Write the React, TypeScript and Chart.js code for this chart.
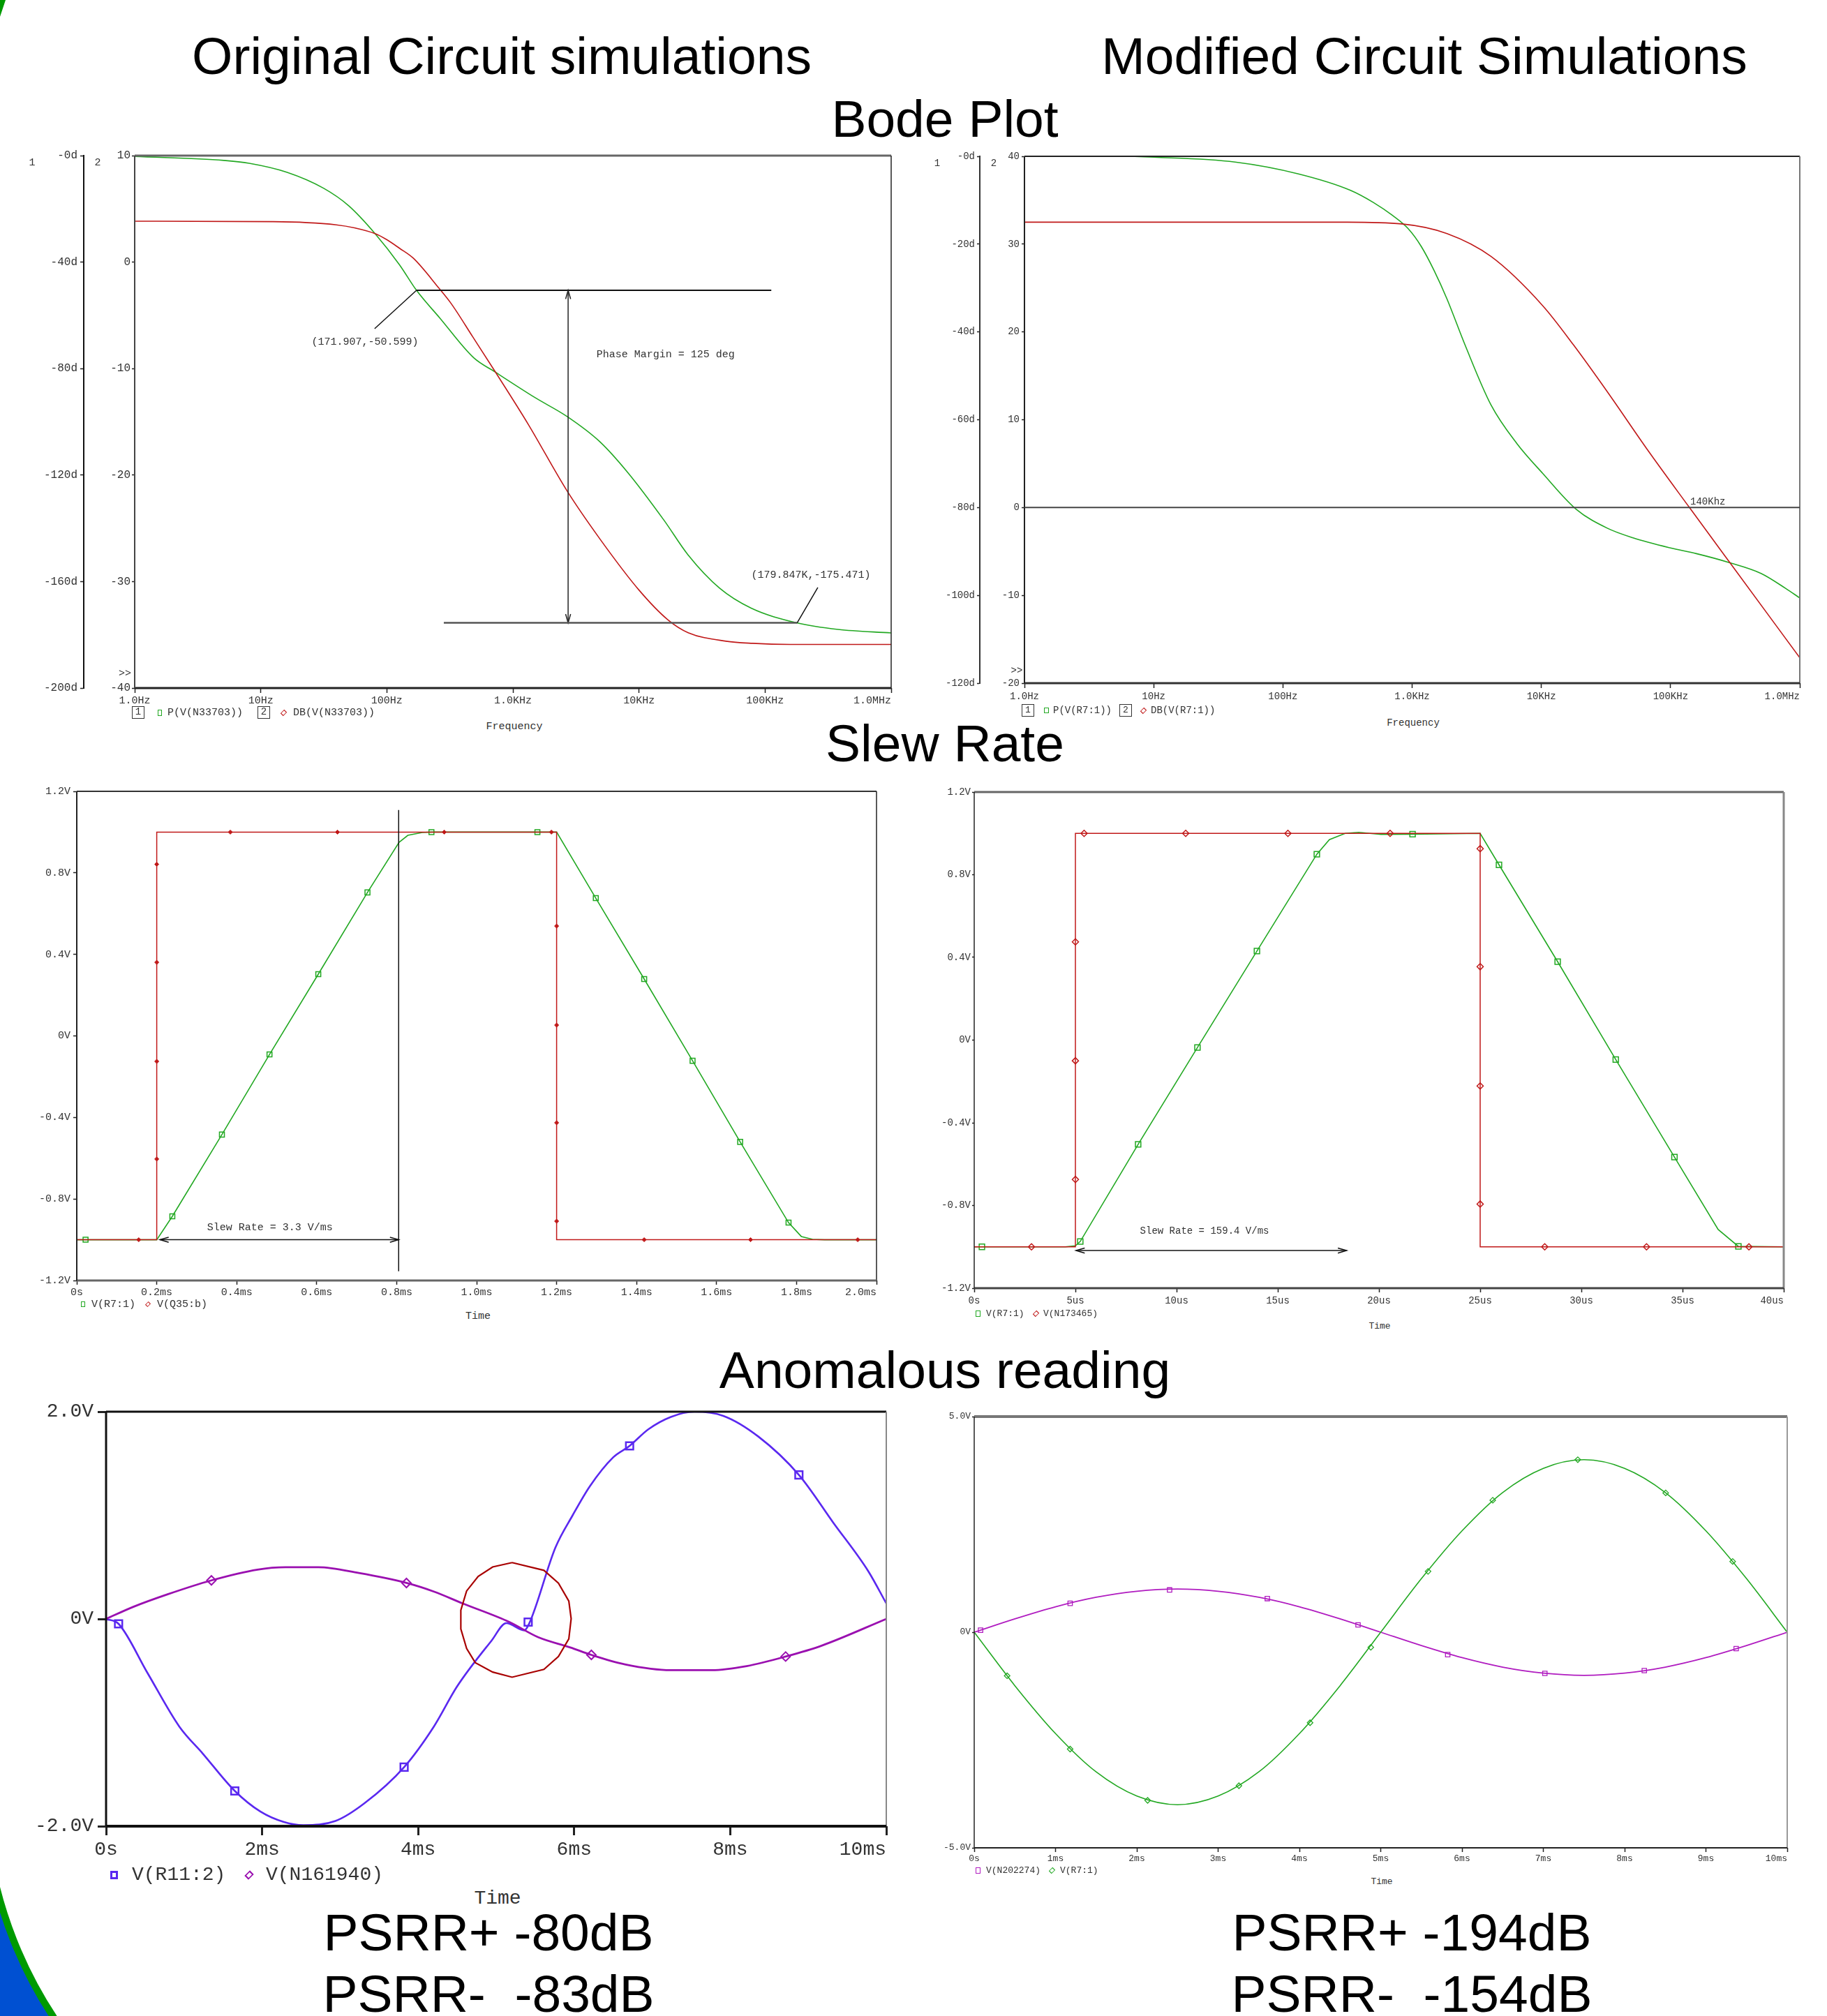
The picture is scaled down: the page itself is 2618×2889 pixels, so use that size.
import React, { useEffect, useRef } from 'react';
import { Chart, registerables } from 'chart.js';
Chart.register(...registerables);

const MONO = '"Liberation Mono", "DejaVu Sans Mono", monospace';
const SANS = '"Liberation Sans", Arial, sans-serif';
const TXT = '#333';
const GREEN = '#22a822';
const RED = '#c01818';
const BLUE = '#5a28f0';
const PURPLE = '#9a10b0';
const CIRCLE = '#a80000';
const MAG = '#b01cc0';

// ---------------- Bode plot, original circuit ----------------
const bodeXTicks = [1, 10, 100, 1000, 10000, 100000, 1000000];
const bodeXLabels = ['1.0Hz', '10Hz', '100Hz', '1.0KHz', '10KHz', '100KHz', '1.0MHz'];
const bodeOrigPhTicks = [-200, -160, -120, -80, -40, 0];
const bodeOrigPhLabels = ['-200d', '-160d', '-120d', '-80d', '-40d', '-0d'];
const bodeOrigDbTicks = [-40, -30, -20, -10, 0, 10];
const bodeOrigDbLabels = ['-40', '-30', '-20', '-10', '0', '10'];
const bodeOrigPhaseF = [1, 5.1, 8.1, 16.2, 31.6, 50, 81, 126, 171.9, 263, 490, 724, 1510, 2690, 4900, 8130, 15800, 24500, 43600, 77600, 178000, 380000, 1000000];
const bodeOrigPhase = [-0.3, -1.8, -2.9, -6.3, -12.3, -18.9, -29.4, -41, -50.6, -61, -76, -81.3, -91, -98, -107.5, -119, -137, -150, -162.5, -170, -175.5, -178, -179.3];
const bodeOrigDbF = [1, 12.6, 39.8, 56.2, 81.3, 100, 126, 162, 257, 324, 479, 724, 1318, 2692, 4898, 10000, 16982, 24547, 48978, 79433, 158489, 1000000];
const bodeOrigDb = [3.84, 3.8, 3.5, 3.2, 2.66, 2.1, 1.3, 0.37, -2.4, -3.9, -7.0, -10.3, -15.2, -21.5, -26.0, -30.8, -33.6, -34.8, -35.6, -35.8, -35.9, -35.9];
const bodeOrigNotes = [
  { type: 'line', axis: 'yPh', x1: 171.907, y1: -50.599, x2: 112000, y2: -50.599, width: 2, color: '#111' },
  { type: 'line', axis: 'yPh', x1: 171.907, y1: -50.599, x2: 80, y2: -65, width: 1.5, color: '#111' },
  { type: 'text', axis: 'yPh', x: 67, y: -70, text: '(171.907,-50.599)', align: 'center' },
  { type: 'arrow', axis: 'yPh', x1: 2740, y1: -50.599, x2: 2740, y2: -175.471, width: 1.5, color: '#222' },
  { type: 'text', axis: 'yPh', x: 4600, y: -74.7, text: 'Phase Margin = 125 deg', align: 'left' },
  { type: 'line', axis: 'yPh', x1: 283, y1: -175.471, x2: 179847, y2: -175.471, width: 2.5, color: '#555' },
  { type: 'line', axis: 'yPh', x1: 179847, y1: -175.471, x2: 262000, y2: -162.2, width: 1.5, color: '#111' },
  { type: 'text', axis: 'yPh', x: 231000, y: -157.5, text: '(179.847K,-175.471)', align: 'center' },
];

// ---------------- Bode plot, modified circuit ----------------
const bodeModPhTicks = [-120, -100, -80, -60, -40, -20, 0];
const bodeModPhLabels = ['-120d', '-100d', '-80d', '-60d', '-40d', '-20d', '-0d'];
const bodeModDbTicks = [-20, -10, 0, 10, 20, 30, 40];
const bodeModDbLabels = ['-20', '-10', '0', '10', '20', '30', '40'];
const bodeModPhaseF = [1, 5.4, 10, 42.7, 132, 331, 501, 708, 933, 1175, 1479, 1862, 2570, 4074, 6457, 10233, 18621, 32359, 51286, 100000, 158489, 281838, 501187, 776247, 1000000];
const bodeModPhase = [0, 0, -0.2, -1.3, -4.0, -7.7, -10.5, -13.5, -16.5, -20.5, -26.0, -32.5, -43.0, -56.6, -65.4, -72.2, -80.4, -84.7, -86.9, -89.2, -90.5, -92.5, -95.0, -98.4, -100.6];
const bodeModDbF = [1, 316, 832, 1862, 4074, 10233, 17783, 32359, 67608, 140000, 281838, 1000000];
const bodeModDb = [32.5, 32.5, 32.3, 31.2, 28.6, 23.0, 18.5, 13.2, 6.4, 0, -6.1, -17.1];
const bodeModNotes = [
  { type: 'line', axis: 'yDb', x1: 1, y1: 0, x2: 1000000, y2: 0, width: 2, color: '#444' },
  { type: 'text', axis: 'yDb', x: 142000, y: 0.66, text: '140Khz', align: 'left' },
];

// ---------------- Slew rate ----------------
const slewYTicks = [-1.2, -0.8, -0.4, 0, 0.4, 0.8, 1.2];
const slewYLabels = ['-1.2V', '-0.8V', '-0.4V', '0V', '0.4V', '0.8V', '1.2V'];
const slewOrigXTicks = [0, 0.2, 0.4, 0.6, 0.8, 1.0, 1.2, 1.4, 1.6, 1.8, 2.0];
const slewOrigXLabels = ['0s', '0.2ms', '0.4ms', '0.6ms', '0.8ms', '1.0ms', '1.2ms', '1.4ms', '1.6ms', '1.8ms', '2.0ms'];
const slewOrigRedT = [0, 0.2, 0.2, 1.2, 1.2, 2.0];
const slewOrigRedV = [-1, -1, 1, 1, -1, -1];
const slewOrigRedMarkT = [0.155, 0.2, 0.2, 0.2, 0.2, 0.384, 0.652, 0.919, 1.187, 1.2, 1.2, 1.2, 1.2, 1.419, 1.685, 1.953];
const slewOrigRedMarkV = [-1, -0.604, -0.125, 0.361, 0.842, 1, 1, 1, 1, 0.539, 0.053, -0.426, -0.909, -1, -1, -1];
const slewOrigGreenT = [0, 0.2, 0.239, 0.363, 0.482, 0.604, 0.727, 0.806, 0.828, 0.864, 0.887, 1.152, 1.2, 1.298, 1.419, 1.54, 1.659, 1.78, 1.812, 1.84, 1.87, 2.0];
const slewOrigGreenV = [-1, -1, -0.885, -0.484, -0.091, 0.303, 0.704, 0.95, 0.984, 0.998, 1.0, 1.0, 1.0, 0.676, 0.279, -0.122, -0.52, -0.916, -0.984, -0.998, -1, -1];
const slewOrigGreenMarkT = [0.022, 0.239, 0.363, 0.482, 0.604, 0.727, 0.887, 1.152, 1.298, 1.419, 1.54, 1.659, 1.78];
const slewOrigGreenMarkV = [-1, -0.885, -0.484, -0.091, 0.303, 0.704, 1.0, 1.0, 0.676, 0.279, -0.122, -0.52, -0.916];
const slewOrigNotes = [
  { type: 'line', axis: 'y', x1: 0.805, y1: 1.108, x2: 0.805, y2: -1.155, width: 1.5, color: '#111' },
  { type: 'arrow', axis: 'y', x1: 0.208, y1: -1, x2: 0.805, y2: -1, width: 1.5, color: '#111' },
  { type: 'text', axis: 'y', x: 0.483, y: -0.94, text: 'Slew Rate = 3.3 V/ms', align: 'center' },
];

const slewModXTicks = [0, 5, 10, 15, 20, 25, 30, 35, 40];
const slewModXLabels = ['0s', '5us', '10us', '15us', '20us', '25us', '30us', '35us', '40us'];
const slewModRedT = [0, 5, 5, 25, 25, 40];
const slewModRedV = [-1, -1, 1, 1, -1, -1];
const slewModRedMarkT = [2.83, 5, 5, 5, 5.43, 10.45, 15.5, 20.55, 25, 25, 25, 25, 28.19, 33.22, 38.28];
const slewModRedMarkV = [-1, 0.475, -0.1, -0.674, 1, 1, 1, 1, 0.926, 0.355, -0.222, -0.793, -1, -1, -1];
const slewModGreenT = [0, 4.5, 5, 5.24, 8.1, 11.03, 13.97, 16.93, 17.55, 18.33, 19.0, 20.1, 21.66, 25, 25.93, 28.83, 31.7, 34.6, 36.76, 37.76, 40];
const slewModGreenV = [-1, -1, -0.995, -0.974, -0.504, -0.036, 0.431, 0.899, 0.97, 1.0, 1.005, 0.995, 0.996, 1.0, 0.848, 0.379, -0.094, -0.566, -0.916, -0.998, -1];
const slewModGreenMarkT = [0.38, 5.24, 8.1, 11.03, 13.97, 16.93, 21.66, 25.93, 28.83, 31.7, 34.6, 37.76];
const slewModGreenMarkV = [-1, -0.974, -0.504, -0.036, 0.431, 0.899, 0.996, 0.848, 0.379, -0.094, -0.566, -0.998];
const slewModNotes = [
  { type: 'arrow', axis: 'y', x1: 5.03, y1: -1.018, x2: 18.4, y2: -1.018, width: 1.5, color: '#111' },
  { type: 'text', axis: 'y', x: 11.38, y: -0.923, text: 'Slew Rate = 159.4 V/ms', align: 'center' },
];

// ---------------- Anomalous reading ----------------
const anomOrigXTicks = [0, 2, 4, 6, 8, 10];
const anomOrigXLabels = ['0s', '2ms', '4ms', '6ms', '8ms', '10ms'];
const anomOrigYTicks = [-2, 0, 2];
const anomOrigYLabels = ['-2.0V', '0V', '2.0V'];
const anomOrigBlueT = [0, 0.16, 0.53, 0.94, 1.24, 1.65, 1.98, 2.28, 2.53, 2.94, 3.31, 3.82, 4.2, 4.5, 4.94, 5.13, 5.36, 5.42, 5.76, 5.98, 6.2, 6.5, 6.71, 6.95, 7.24, 7.54, 7.91, 8.36, 8.88, 9.32, 9.77, 10];
const anomOrigBlueV = [0, -0.047, -0.52, -1.04, -1.30, -1.66, -1.86, -1.96, -1.99, -1.95, -1.78, -1.43, -1.04, -0.65, -0.21, -0.04, -0.11, -0.05, 0.69, 1.0, 1.28, 1.56, 1.67, 1.83, 1.95, 2.0, 1.96, 1.76, 1.39, 0.93, 0.46, 0.15];
const anomOrigBlueMarkT = [0.16, 1.65, 3.82, 5.41, 6.71, 8.88];
const anomOrigBlueMarkV = [-0.047, -1.66, -1.43, -0.03, 1.67, 1.39];
const anomOrigPurpleT = [0, 0.35, 0.79, 1.35, 1.94, 2.3, 2.72, 3.24, 3.85, 4.2, 4.57, 5.17, 5.54, 5.95, 6.22, 6.65, 7.24, 7.76, 8.21, 8.71, 9.17, 10];
const anomOrigPurpleV = [0, 0.117, 0.238, 0.372, 0.476, 0.499, 0.499, 0.443, 0.347, 0.264, 0.15, -0.03, -0.177, -0.275, -0.347, -0.438, -0.494, -0.494, -0.455, -0.363, -0.258, 0];
const anomOrigPurpleMarkT = [1.35, 3.85, 6.22, 8.71];
const anomOrigPurpleMarkV = [0.372, 0.347, -0.347, -0.363];
const circleT = [5.204, 5.612, 5.798, 5.931, 5.961, 5.931, 5.798, 5.612, 5.204, 4.955, 4.732, 4.621, 4.547, 4.547, 4.621, 4.769, 4.955, 5.204];
const circleV = [0.544, 0.469, 0.345, 0.172, 0.003, -0.193, -0.363, -0.487, -0.562, -0.513, -0.422, -0.285, -0.096, 0.084, 0.270, 0.411, 0.502, 0.544];

const anomModXTicks = [0, 1, 2, 3, 4, 5, 6, 7, 8, 9, 10];
const anomModXLabels = ['0s', '1ms', '2ms', '3ms', '4ms', '5ms', '6ms', '7ms', '8ms', '9ms', '10ms'];
const anomModYTicks = [-5, 0, 5];
const anomModYLabels = ['-5.0V', '0V', '5.0V'];
const anomModT = [0, 0.5, 1, 1.5, 2, 2.5, 3, 3.5, 4, 4.5, 5, 5.5, 6, 6.5, 7, 7.5, 8, 8.5, 9, 9.5, 10];
const anomModGreenV = [0, -1.24, -2.35, -3.24, -3.8, -4.0, -3.8, -3.24, -2.35, -1.24, 0, 1.24, 2.35, 3.24, 3.8, 4.0, 3.8, 3.24, 2.35, 1.24, 0];
const anomModPurpleV = [0, 0.31, 0.59, 0.81, 0.95, 1.0, 0.95, 0.81, 0.59, 0.31, 0, -0.31, -0.59, -0.81, -0.95, -1.0, -0.95, -0.81, -0.59, -0.31, 0];
const anomModGreenMarkT = [0.405, 1.18, 2.133, 3.256, 4.131, 4.878, 5.582, 6.378, 7.424, 8.505, 9.329];
const anomModGreenMarkV = [-1.01, -2.71, -3.90, -3.56, -2.10, -0.35, 1.41, 3.06, 4.0, 3.23, 1.64];
const anomModPurpleMarkT = [0.078, 1.18, 2.403, 3.605, 4.721, 5.824, 7.019, 8.242, 9.372];
const anomModPurpleMarkV = [0.047, 0.67, 0.98, 0.78, 0.17, -0.52, -0.955, -0.89, -0.38];

// ---------------- helpers ----------------
const pts = (xs: number[], ys: number[]) => xs.map((x, i) => ({ x, y: ys[i] }));

function lineDs(xs: number[], ys: number[], color: string, width: number, axis: string, order: number, smooth = false) {
  return {
    data: pts(xs, ys), showLine: true, borderColor: color, borderWidth: width, pointRadius: 0,
    yAxisID: axis, order, fill: false, tension: 0,
    cubicInterpolationMode: smooth ? 'monotone' : 'default',
  };
}
function markDs(xs: number[], ys: number[], color: string, style: string, r: number, filled: boolean, bw: number, axis: string, order: number) {
  return {
    data: pts(xs, ys), showLine: false, pointStyle: style, pointRadius: r, borderColor: color,
    backgroundColor: filled ? color : 'rgba(0,0,0,0)', borderWidth: bw, pointBorderWidth: bw,
    yAxisID: axis, order,
  };
}

function framePlugin(f: any) {
  return {
    id: 'frame',
    afterDatasetsDraw(chart: any) {
      const { ctx, chartArea: a } = chart;
      const side = (spec: any, x1: number, y1: number, x2: number, y2: number) => {
        ctx.save(); ctx.strokeStyle = spec[1]; ctx.lineWidth = spec[0];
        ctx.beginPath(); ctx.moveTo(x1, y1); ctx.lineTo(x2, y2); ctx.stroke(); ctx.restore();
      };
      side(f.top, a.left, a.top, a.right, a.top);
      side(f.right, a.right, a.top, a.right, a.bottom);
      side(f.bottom, a.left, a.bottom, a.right, a.bottom);
      side(f.left, a.left, a.top, a.left, a.bottom);
    },
  };
}

function notesPlugin(items: any[], size: number) {
  return {
    id: 'notes',
    afterDraw(chart: any) {
      const ctx = chart.ctx; const xs = chart.scales.x;
      items.forEach((it: any) => {
        const ys = chart.scales[it.axis];
        ctx.save();
        if (it.type === 'text') {
          ctx.font = `${size}px ${MONO}`; ctx.fillStyle = TXT; ctx.textAlign = it.align; ctx.textBaseline = 'middle';
          ctx.fillText(it.text, xs.getPixelForValue(it.x), ys.getPixelForValue(it.y));
        } else {
          const x1 = xs.getPixelForValue(it.x1), y1 = ys.getPixelForValue(it.y1);
          const x2 = xs.getPixelForValue(it.x2), y2 = ys.getPixelForValue(it.y2);
          ctx.strokeStyle = it.color; ctx.lineWidth = it.width;
          ctx.beginPath(); ctx.moveTo(x1, y1); ctx.lineTo(x2, y2); ctx.stroke();
          if (it.type === 'arrow') {
            const head = (px: number, py: number, ang: number) => {
              const L = 13, s = 0.28;
              ctx.beginPath();
              ctx.moveTo(px - L * Math.cos(ang - s), py - L * Math.sin(ang - s));
              ctx.lineTo(px, py);
              ctx.lineTo(px - L * Math.cos(ang + s), py - L * Math.sin(ang + s));
              ctx.stroke();
            };
            const ang = Math.atan2(y2 - y1, x2 - x1);
            head(x2, y2, ang); head(x1, y1, ang + Math.PI);
          }
        }
        ctx.restore();
      });
    },
  };
}

function xLabelPlugin(labels: string[], size: number, offset: number) {
  return {
    id: 'xlabels',
    afterDraw(chart: any) {
      const ctx = chart.ctx; const s = chart.scales.x;
      ctx.save(); ctx.font = `${size}px ${MONO}`; ctx.fillStyle = TXT; ctx.textBaseline = 'middle';
      s.ticks.forEach((t: any, i: number) => {
        ctx.textAlign = i === s.ticks.length - 1 ? 'right' : 'center';
        ctx.fillText(labels[i], s.getPixelForValue(t.value), s.top + offset);
      });
      ctx.restore();
    },
  };
}

function makeConfig(spec: any) {
  const zeroPad = (s: any) => { s.paddingLeft = 0; s.paddingRight = 0; s.paddingTop = 0; s.paddingBottom = 0; };
  const scales: any = {
    x: {
      type: spec.xType, min: spec.xMin, max: spec.xMax, position: 'bottom',
      afterBuildTicks: (s: any) => { s.ticks = spec.xTicks.map((v: number) => ({ value: v })); },
      afterFit: (s: any) => { s.height = spec.xHeight; zeroPad(s); },
      ticks: { display: false },
      grid: { display: true, drawOnChartArea: false, drawTicks: true, tickLength: spec.xTickLen, tickColor: '#222', tickWidth: spec.xTickWidth || 1.5 },
      border: { display: false },
    },
  };
  spec.yAxes.forEach((a: any) => {
    scales[a.id] = {
      type: 'linear', position: 'left', weight: a.weight, min: a.min, max: a.max,
      afterBuildTicks: (s: any) => { s.ticks = a.ticks.map((v: number) => ({ value: v })); },
      afterFit: (s: any) => { s.width = a.width; zeroPad(s); },
      ticks: {
        callback: (_v: any, i: number) => a.labels[i], autoSkip: false,
        font: { family: MONO, size: a.font }, color: TXT, padding: a.pad,
      },
      grid: { display: true, drawOnChartArea: false, drawTicks: true, tickLength: a.tickLen, tickColor: '#222', tickWidth: a.tickWidth || 1.5 },
      border: a.border ? { display: true, width: a.border.width, color: a.border.color } : { display: false },
    };
  });
  return {
    type: 'scatter',
    data: { datasets: spec.datasets },
    options: {
      responsive: false, animation: false, devicePixelRatio: 1, events: [],
      layout: { padding: spec.padding },
      plugins: { legend: { display: false }, tooltip: { enabled: false } },
      scales,
    },
    plugins: [framePlugin(spec.frame), notesPlugin(spec.notes || [], spec.noteFont || 14), xLabelPlugin(spec.xLabels, spec.xLabelFont, spec.xLabelOffset)],
  };
}

// ---------------- chart specs ----------------
const specBodeOrig = () => makeConfig({
  xType: 'logarithmic', xMin: 1, xMax: 1000000, xTicks: bodeXTicks, xLabels: bodeXLabels,
  xHeight: 34, xTickLen: 7, xLabelFont: 15, xLabelOffset: 18,
  padding: { top: 33, right: 43, bottom: 0, left: 0 },
  yAxes: [
    { id: 'yPh', min: -200, max: 0, ticks: bodeOrigPhTicks, labels: bodeOrigPhLabels, width: 120, weight: 10, tickLen: 5, pad: 4, font: 16, border: { width: 2, color: '#111' } },
    { id: 'yDb', min: -40, max: 10, ticks: bodeOrigDbTicks, labels: bodeOrigDbLabels, width: 73, weight: 1, tickLen: 4, pad: 2, font: 16 },
  ],
  datasets: [
    lineDs(bodeOrigDbF, bodeOrigDb, RED, 1.6, 'yDb', 0, true),
    lineDs(bodeOrigPhaseF, bodeOrigPhase, GREEN, 1.6, 'yPh', 1, true),
  ],
  frame: { top: [3, '#666'], right: [1.5, '#222'], bottom: [3, '#222'], left: [2, '#444'] },
  notes: bodeOrigNotes, noteFont: 15,
});

const specBodeMod = () => makeConfig({
  xType: 'logarithmic', xMin: 1, xMax: 1000000, xTicks: bodeXTicks, xLabels: bodeXLabels,
  xHeight: 41, xTickLen: 7, xLabelFont: 14, xLabelOffset: 19,
  padding: { top: 34, right: 39, bottom: 0, left: 0 },
  yAxes: [
    { id: 'yPh', min: -120, max: 0, ticks: bodeModPhTicks, labels: bodeModPhLabels, width: 84, weight: 10, tickLen: 4, pad: 3, font: 14, border: { width: 2, color: '#333' } },
    { id: 'yDb', min: -20, max: 40, ticks: bodeModDbTicks, labels: bodeModDbLabels, width: 64, weight: 1, tickLen: 4, pad: 3, font: 14 },
  ],
  datasets: [
    lineDs(bodeModDbF, bodeModDb, RED, 1.6, 'yDb', 0, true),
    lineDs(bodeModPhaseF, bodeModPhase, GREEN, 1.6, 'yPh', 1, true),
  ],
  frame: { top: [2, '#222'], right: [2, '#777'], bottom: [3, '#333'], left: [2, '#222'] },
  notes: bodeModNotes, noteFont: 14,
});

const specSlewOrig = () => makeConfig({
  xType: 'linear', xMin: 0, xMax: 2, xTicks: slewOrigXTicks, xLabels: slewOrigXLabels,
  xHeight: 35, xTickLen: 6, xLabelFont: 15, xLabelOffset: 17,
  padding: { top: 34, right: 44, bottom: 0, left: 0 },
  yAxes: [{ id: 'y', min: -1.2, max: 1.2, ticks: slewYTicks, labels: slewYLabels, width: 110, weight: 1, tickLen: 5, pad: 4, font: 15 }],
  datasets: [
    lineDs(slewOrigRedT, slewOrigRedV, RED, 1.5, 'y', 0),
    markDs(slewOrigRedMarkT, slewOrigRedMarkV, RED, 'rectRot', 3, true, 1, 'y', 0),
    lineDs(slewOrigGreenT, slewOrigGreenV, GREEN, 1.6, 'y', 2),
    markDs(slewOrigGreenMarkT, slewOrigGreenMarkV, GREEN, 'rect', 5, false, 1.5, 'y', 1),
  ],
  frame: { top: [2, '#333'], right: [1.5, '#222'], bottom: [3, '#666'], left: [2, '#222'] },
  notes: slewOrigNotes, noteFont: 15,
});

const specSlewMod = () => makeConfig({
  xType: 'linear', xMin: 0, xMax: 40, xTicks: slewModXTicks, xLabels: slewModXLabels,
  xHeight: 44, xTickLen: 6, xLabelFont: 14, xLabelOffset: 18,
  padding: { top: 35, right: 62, bottom: 0, left: 0 },
  yAxes: [{ id: 'y', min: -1.2, max: 1.2, ticks: slewYTicks, labels: slewYLabels, width: 96, weight: 1, tickLen: 3, pad: 2, font: 14 }],
  datasets: [
    lineDs(slewModRedT, slewModRedV, RED, 1.5, 'y', 0),
    markDs(slewModRedMarkT, slewModRedMarkV, RED, 'rectRot', 4.5, false, 1.5, 'y', 0),
    lineDs(slewModGreenT, slewModGreenV, GREEN, 1.6, 'y', 2),
    markDs(slewModGreenMarkT, slewModGreenMarkV, GREEN, 'rect', 5.5, false, 1.5, 'y', 1),
  ],
  frame: { top: [3, '#666'], right: [3, '#888'], bottom: [3, '#444'], left: [1.5, '#222'] },
  notes: slewModNotes, noteFont: 14,
});

const specAnomOrig = () => makeConfig({
  xType: 'linear', xMin: 0, xMax: 10, xTicks: anomOrigXTicks, xLabels: anomOrigXLabels,
  xHeight: 58, xTickLen: 13, xTickWidth: 3, xLabelFont: 28, xLabelOffset: 34,
  padding: { top: 28, right: 50, bottom: 0, left: 0 },
  yAxes: [{ id: 'y', min: -2, max: 2, ticks: anomOrigYTicks, labels: anomOrigYLabels, width: 152, weight: 1, tickLen: 12, tickWidth: 3, pad: 6, font: 28 }],
  datasets: [
    lineDs(circleT, circleV, CIRCLE, 2.2, 'y', 0),
    lineDs(anomOrigBlueT, anomOrigBlueV, BLUE, 2.6, 'y', 3, true),
    markDs(anomOrigBlueMarkT, anomOrigBlueMarkV, BLUE, 'rect', 7.5, false, 2.5, 'y', 2),
    lineDs(anomOrigPurpleT, anomOrigPurpleV, PURPLE, 2.8, 'y', 1, true),
    markDs(anomOrigPurpleMarkT, anomOrigPurpleMarkV, PURPLE, 'rectRot', 6.5, false, 2, 'y', 1),
  ],
  frame: { top: [3, '#111'], right: [2, '#888'], bottom: [4, '#111'], left: [3, '#111'] },
  notes: [],
});

const specAnomMod = () => makeConfig({
  xType: 'linear', xMin: 0, xMax: 10, xTicks: anomModXTicks, xLabels: anomModXLabels,
  xHeight: 32, xTickLen: 6, xLabelFont: 13, xLabelOffset: 16,
  padding: { top: 30, right: 57, bottom: 0, left: 0 },
  yAxes: [{ id: 'y', min: -5, max: 5, ticks: anomModYTicks, labels: anomModYLabels, width: 96, weight: 1, tickLen: 3, pad: 2, font: 13 }],
  datasets: [
    lineDs(anomModT, anomModGreenV, GREEN, 1.6, 'y', 0, true),
    markDs(anomModGreenMarkT, anomModGreenMarkV, GREEN, 'rectRot', 4, false, 1.3, 'y', 0),
    lineDs(anomModT, anomModPurpleV, MAG, 1.8, 'y', 1, true),
    markDs(anomModPurpleMarkT, anomModPurpleMarkV, MAG, 'rect', 4.5, false, 1.3, 'y', 1),
  ],
  frame: { top: [4, '#777'], right: [2, '#999'], bottom: [2, '#222'], left: [1.5, '#222'] },
  notes: [],
});

// ---------------- React components ----------------
function Plot({ x, y, w, h, make }: any) {
  const ref = useRef<HTMLCanvasElement | null>(null);
  useEffect(() => {
    const chart = new Chart(ref.current as HTMLCanvasElement, make() as any);
    return () => chart.destroy();
  }, []);
  return <canvas ref={ref} width={w} height={h} style={{ position: 'absolute', left: x, top: y, width: w, height: h }} />;
}

function Txt({ x, y, s, size, fam = MONO, align = 'center', color = TXT }: any) {
  const tx = align === 'center' ? '-50%' : align === 'right' ? '-100%' : '0';
  return (
    <div style={{ position: 'absolute', left: x, top: y, transform: `translate(${tx}, -50%)`, fontFamily: fam, fontSize: size, lineHeight: 1, whiteSpace: 'pre', color }}>{s}</div>
  );
}

function Sq({ x, y, w, h, color, bw }: any) {
  return <div style={{ position: 'absolute', left: x - w / 2, top: y - h / 2, width: w, height: h, border: `${bw}px solid ${color}`, boxSizing: 'border-box' }} />;
}
function Dia({ x, y, s, color, bw }: any) {
  return <div style={{ position: 'absolute', left: x - s / 2, top: y - s / 2, width: s, height: s, border: `${bw}px solid ${color}`, boxSizing: 'border-box', transform: 'rotate(45deg) scale(0.8, 1.1)' }} />;
}
function NumBox({ x, y, n, size }: any) {
  return (
    <div style={{ position: 'absolute', left: x - 9, top: y - 9, width: 18, height: 18, border: '1.5px solid #333', boxSizing: 'border-box', fontFamily: MONO, fontSize: size, lineHeight: '15px', textAlign: 'center', color: TXT }}>{n}</div>
  );
}

export default function App() {
  const T = 75;
  return (
    <div style={{ position: 'absolute', left: 0, top: 0, width: 2618, height: 2889, background: '#fff', overflow: 'hidden' }}>
      {/* decorative corners */}
      <div style={{ position: 'absolute', left: 0, top: 0, width: 8, height: 24, background: '#009a00', clipPath: 'polygon(0 0, 100% 0, 0 100%)' }} />
      <div style={{ position: 'absolute', left: 0, top: 2600, width: 200, height: 289, overflow: 'hidden', background: '#0050d2' }}>
        <div style={{ position: 'absolute', left: -28, top: -651, width: 1218, height: 1218, borderRadius: '50%', background: '#fff', border: '10px solid #009a00', boxSizing: 'border-box' }} />
      </div>

      {/* titles */}
      <Txt x={719} y={80} s="Original Circuit simulations" size={T} fam={SANS} color="#000" />
      <Txt x={2041} y={80} s="Modified Circuit Simulations" size={T} fam={SANS} color="#000" />
      <Txt x={1354} y={170} s="Bode Plot" size={T} fam={SANS} color="#000" />
      <Txt x={1354} y={1065} s="Slew Rate" size={T} fam={SANS} color="#000" />
      <Txt x={1354} y={1963} s="Anomalous reading" size={T} fam={SANS} color="#000" />
      <Txt x={700} y={2769} s="PSRR+ -80dB" size={T} fam={SANS} color="#000" />
      <Txt x={700} y={2857} s="PSRR-  -83dB" size={T} fam={SANS} color="#000" />
      <Txt x={2023} y={2769} s="PSRR+ -194dB" size={T} fam={SANS} color="#000" />
      <Txt x={2023} y={2857} s="PSRR-  -154dB" size={T} fam={SANS} color="#000" />

      {/* charts */}
      <Plot x={0} y={190} w={1320} h={830} make={specBodeOrig} />
      <Plot x={1320} y={190} w={1298} h={830} make={specBodeMod} />
      <Plot x={0} y={1100} w={1300} h={770} make={specSlewOrig} />
      <Plot x={1300} y={1100} w={1318} h={790} make={specSlewMod} />
      <Plot x={0} y={1995} w={1320} h={680} make={specAnomOrig} />
      <Plot x={1300} y={2000} w={1318} h={680} make={specAnomMod} />

      {/* Bode original extras */}
      <Txt x={46} y={233} s="1" size={15} />
      <Txt x={140} y={233} s="2" size={15} />
      <Txt x={179} y={965} s=">>" size={15} />
      <NumBox x={198} y={1021} n="1" size={14} />
      <Sq x={229} y={1021} w={6} h={9} color={GREEN} bw={1.5} />
      <Txt x={240} y={1021} s="P(V(N33703))" size={15} align="left" />
      <NumBox x={378} y={1021} n="2" size={14} />
      <Dia x={406} y={1021} s={7} color={RED} bw={1.5} />
      <Txt x={420} y={1021} s="DB(V(N33703))" size={15} align="left" />
      <Txt x={737} y={1041} s="Frequency" size={15} />

      {/* Bode modified extras */}
      <Txt x={1343} y={234} s="1" size={14} />
      <Txt x={1424} y={234} s="2" size={14} />
      <Txt x={1457} y={961} s=">>" size={14} />
      <NumBox x={1473} y={1018} n="1" size={13} />
      <Sq x={1499} y={1018} w={7} h={8} color={GREEN} bw={1.5} />
      <Txt x={1509} y={1018} s="P(V(R7:1))" size={14} align="left" />
      <NumBox x={1613} y={1018} n="2" size={13} />
      <Dia x={1638} y={1018} s={7} color={RED} bw={1.5} />
      <Txt x={1649} y={1018} s="DB(V(R7:1))" size={14} align="left" />
      <Txt x={2025} y={1036} s="Frequency" size={14} />

      {/* Slew original legend */}
      <Sq x={119} y={1869} w={6} h={8} color={GREEN} bw={1.5} />
      <Txt x={131} y={1869} s="V(R7:1)" size={15} align="left" />
      <Dia x={212} y={1869} s={6} color={RED} bw={1.5} />
      <Txt x={225} y={1869} s="V(Q35:b)" size={15} align="left" />
      <Txt x={685} y={1886} s="Time" size={15} />

      {/* Slew modified legend */}
      <Sq x={1401} y={1882} w={7} h={9} color={GREEN} bw={1.5} />
      <Txt x={1413} y={1882} s="V(R7:1)" size={13} align="left" />
      <Dia x={1484} y={1882} s={7} color={RED} bw={1.5} />
      <Txt x={1495} y={1882} s="V(N173465)" size={13} align="left" />
      <Txt x={1977} y={1900} s="Time" size={13} />

      {/* Anomalous original legend */}
      <Sq x={163} y={2687} w={11} h={12} color={BLUE} bw={3} />
      <Txt x={189} y={2687} s="V(R11:2)" size={28} align="left" />
      <Dia x={357} y={2687} s={10} color={PURPLE} bw={2} />
      <Txt x={381} y={2687} s="V(N161940)" size={28} align="left" />
      <Txt x={713} y={2721} s="Time" size={28} />

      {/* Anomalous modified legend */}
      <Sq x={1401} y={2680} w={7} h={9} color={MAG} bw={1.5} />
      <Txt x={1413} y={2680} s="V(N202274)" size={13} align="left" />
      <Dia x={1507} y={2680} s={7} color={GREEN} bw={1.5} />
      <Txt x={1519} y={2680} s="V(R7:1)" size={13} align="left" />
      <Txt x={1980} y={2696} s="Time" size={13} />
    </div>
  );
}
